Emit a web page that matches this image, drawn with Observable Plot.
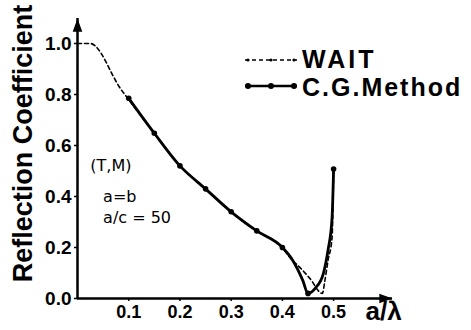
<!DOCTYPE html>
<html><head><meta charset="utf-8">
<script src="https://cdn.jsdelivr.net/npm/d3@7"></script>
<script src="https://cdn.jsdelivr.net/npm/@observablehq/plot@0.6"></script>
<style>
html,body{margin:0;padding:0;background:#fff;}
#chart{position:relative;width:471px;height:330px;overflow:hidden;}
#chart svg.overlay{position:absolute;left:0;top:0;pointer-events:none;}
</style></head><body>
<div id="chart"></div>
<script>
// ---- data ----
const waitX = [0, 0.025, 0.035, 0.045, 0.055, 0.065, 0.08, 0.1, 0.15, 0.2, 0.25, 0.3, 0.35, 0.4, 0.415, 0.435, 0.454, 0.478, 0.483, 0.489, 0.497, 0.5];
const waitY = [1.0, 1.0, 0.99, 0.965, 0.93, 0.89, 0.835, 0.78, 0.648, 0.52, 0.43, 0.34, 0.265, 0.2, 0.16, 0.12, 0.078, 0.02, 0.07, 0.148, 0.238, 0.508];
const cgX = [0.1, 0.15, 0.2, 0.25, 0.3, 0.35, 0.4, 0.42, 0.44, 0.45, 0.464, 0.48, 0.489, 0.497, 0.5];
const cgY = [0.785, 0.648, 0.52, 0.43, 0.34, 0.265, 0.2, 0.15, 0.07, 0.02, 0.04, 0.098, 0.188, 0.316, 0.508];
const xTicks = [0.1, 0.2, 0.3, 0.4, 0.5];
const yTicks = [0, 0.2, 0.4, 0.6, 0.8, 1.0];
const seriesNames = ["WAIT", "C.G.Method"];
const notes = ["(T,M)", "a=b", "a/c = 50"];
const xLabel = "a/λ";
const yLabel = "Reflection Coefficient";

// ---- build tables ----
const wait = waitX.map((x, i) => ({x, y: waitY[i]}));
const cg = cgX.map((x, i) => ({x, y: cgY[i]}));
const cgMarks = cg.filter(d => Math.abs(d.x * 20 - Math.round(d.x * 20)) < 1e-6);
const noteAt = [[0.025, 0.5], [0.05, 0.378], [0.05, 0.298]];
const noteData = notes.map((t, i) => ({t, x: noteAt[i][0], y: noteAt[i][1]}));

const font = "'Liberation Sans', Arial, Helvetica, sans-serif";

// filled arrowheads with the tip at the origin
const arrowRight = {draw(ctx, size) { const r = Math.sqrt(size / Math.PI); const L = 2.2 * r, w = 0.8 * r;
  ctx.moveTo(0, 0); ctx.lineTo(-L, -w); ctx.lineTo(-L, w); ctx.closePath(); }};
const arrowUp = {draw(ctx, size) { const r = Math.sqrt(size / Math.PI); const L = 2.2 * r, w = 0.8 * r;
  ctx.moveTo(0, 0); ctx.lineTo(-w, L); ctx.lineTo(w, L); ctx.closePath(); }};

const plot = Plot.plot({
  width: 471, height: 330,
  marginLeft: 77, marginRight: 79, marginTop: 18, marginBottom: 32,
  x: {domain: [0, 0.615]},
  y: {domain: [0, 1.098]},
  style: {fontFamily: font, background: "white", color: "black"},
  marks: [
    Plot.axisY(yTicks, {tickFormat: d3.format(".1f"), fontSize: 19, fontWeight: "bold", tickSize: 3, tickPadding: 3, strokeWidth: 1.5, label: null}),
    Plot.axisX(xTicks, {tickFormat: d3.format(".1f"), fontSize: 18, fontWeight: "bold", tickSize: 3, tickPadding: 4, strokeWidth: 1.5, label: null}),
    Plot.ruleY([0], {strokeWidth: 2.5}),
    Plot.ruleX([0], {strokeWidth: 2.5}),
    Plot.dot([0], {y: d => d, frameAnchor: "right", symbol: arrowRight, r: 6, fill: "black", stroke: "none"}),
    Plot.dot([0], {x: d => d, frameAnchor: "top", symbol: arrowUp, r: 6, fill: "black", stroke: "none"}),
    Plot.line(wait, {x: "x", y: "y", curve: "monotone-x", strokeDasharray: "4,3", strokeWidth: 1.6}),
    Plot.line(cg, {x: "x", y: "y", curve: "monotone-x", strokeWidth: 2.8}),
    Plot.dot(cgMarks, {x: "x", y: "y", r: 2.8, fill: "black", stroke: "none"}),
    Plot.text(noteData, {x: "x", y: "y", text: "t", textAnchor: "start", lineAnchor: "bottom", fontSize: 16, fontFamily: "'DejaVu Sans', sans-serif", fontWeight: "normal"}),
    Plot.text([yLabel], {text: d => d, frameAnchor: "left", textAnchor: "middle", lineAnchor: "middle", rotate: -90, dx: -54, dy: -15, fontSize: 27, fontWeight: "bold"}),
    Plot.text([xLabel], {text: d => d, frameAnchor: "bottom-right", textAnchor: "start", dx: -27, dy: 21, fontSize: 26, fontWeight: "bold"})
  ]
});
const chart = document.getElementById("chart");
chart.appendChild(plot);

// ---- legend overlay ----
const svg = d3.select(chart).append("svg").attr("class", "overlay").attr("width", 471).attr("height", 330)
  .style("font-family", font);
const rows = [
  {name: seriesNames[0], y: 60, base: 68, dash: "4,3", sw: 1.6, r: 1.6, ls: 3},
  {name: seriesNames[1], y: 86, base: 96, dash: null, sw: 2.6, r: 3, ls: 2}
];
rows.forEach(row => {
  svg.append("line").attr("x1", 245).attr("x2", 297).attr("y1", row.y).attr("y2", row.y)
    .attr("stroke", "black").attr("stroke-width", row.sw).attr("stroke-dasharray", row.dash);
  [248, 271, 294].forEach(cx => svg.append("circle").attr("cx", cx).attr("cy", row.y).attr("r", row.r).attr("fill", "black"));
  svg.append("text").attr("x", 302).attr("y", row.base).attr("font-size", 25).attr("font-weight", "bold")
    .attr("letter-spacing", row.ls).text(row.name);
});
</script>
</body></html>
